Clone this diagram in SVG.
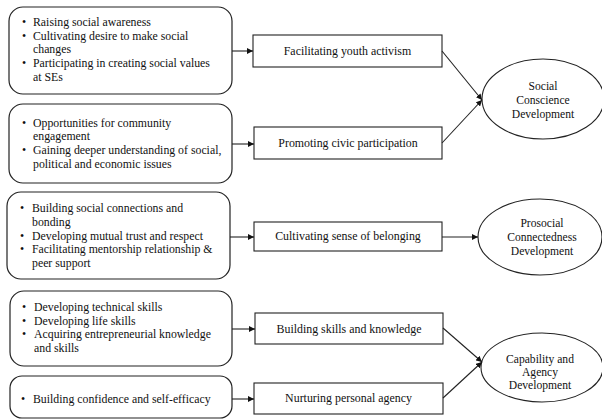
<svg xmlns="http://www.w3.org/2000/svg" width="602" height="420" viewBox="0 0 602 420">
  <style>
    .box { fill: #fff; stroke: #222; stroke-width: 1.2; }
    .rect { fill: #fff; stroke: #222; stroke-width: 1.1; }
    .oval { fill: #fff; stroke: #222; stroke-width: 1.1; }
    .conn { stroke: #222; stroke-width: 1.1; fill: none; marker-end: url(#head); }
    text { font-family: "Liberation Serif", "Times New Roman", serif; font-size: 11.8px; fill: #111; }
    .mid { text-anchor: middle; font-size: 11.9px; }
    .oval-t { text-anchor: middle; font-size: 11.6px; }
  </style>
  <defs>
    <marker id="head" viewBox="0 0 10 10" refX="10" refY="5" markerWidth="6" markerHeight="6" markerUnits="userSpaceOnUse" orient="auto">
      <path d="M0,0 L10,5 L0,10 z" fill="#111"/>
    </marker>
  </defs>
  <rect width="602" height="420" fill="#fff"/>

  <!-- source boxes -->
  <g id="src-activism">
    <rect class="box" x="9" y="7" width="223" height="87" rx="14"/>
    <text x="22" y="26">•</text><text x="33" y="26">Raising social awareness</text>
    <text x="22" y="40">•</text><text x="33" y="40">Cultivating desire to make social</text>
    <text x="33" y="53">changes</text>
    <text x="22" y="67">•</text><text x="33" y="67">Participating in creating social values</text>
    <text x="33" y="81">at SEs</text>
  </g>
  <g id="src-civic">
    <rect class="box" x="9" y="104" width="223" height="79" rx="14"/>
    <text x="22" y="127">•</text><text x="33" y="127">Opportunities for community</text>
    <text x="33" y="140">engagement</text>
    <text x="22" y="154">•</text><text x="33" y="154">Gaining deeper understanding of social,</text>
    <text x="33" y="168">political and economic issues</text>
  </g>
  <g id="src-belonging">
    <rect class="box" x="7" y="192" width="223" height="87" rx="14"/>
    <text x="20" y="212">•</text><text x="32" y="212">Building social connections and</text>
    <text x="32" y="226">bonding</text>
    <text x="20" y="240">•</text><text x="32" y="240">Developing mutual trust and respect</text>
    <text x="20" y="253">•</text><text x="32" y="253">Facilitating mentorship relationship &amp;</text>
    <text x="32" y="267">peer support</text>
  </g>
  <g id="src-skills">
    <rect class="box" x="10" y="291" width="222" height="75" rx="14"/>
    <text x="22" y="311">•</text><text x="34" y="311">Developing technical skills</text>
    <text x="22" y="325">•</text><text x="34" y="325">Developing life skills</text>
    <text x="22" y="338">•</text><text x="34" y="338">Acquiring entrepreneurial knowledge</text>
    <text x="34" y="352">and skills</text>
  </g>
  <g id="src-agency">
    <rect class="box" x="10" y="376" width="222" height="42" rx="12"/>
    <text x="21" y="403">•</text><text x="33" y="403">Building confidence and self-efficacy</text>
  </g>

  <!-- mechanism boxes -->
  <g id="mech-activism">
    <rect class="rect" x="253" y="35" width="189" height="32"/>
    <text class="mid" x="347.5" y="55">Facilitating youth activism</text>
  </g>
  <g id="mech-civic">
    <rect class="rect" x="254" y="127" width="188" height="32"/>
    <text class="mid" x="348" y="147">Promoting civic participation</text>
  </g>
  <g id="mech-belonging">
    <rect class="rect" x="254" y="222" width="188" height="29"/>
    <text class="mid" x="348" y="240">Cultivating sense of belonging</text>
  </g>
  <g id="mech-skills">
    <rect class="rect" x="255" y="313" width="188" height="31"/>
    <text class="mid" x="349" y="333">Building skills and knowledge</text>
  </g>
  <g id="mech-agency">
    <rect class="rect" x="254" y="383" width="189" height="31"/>
    <text class="mid" x="348.5" y="402">Nurturing personal agency</text>
  </g>

  <!-- outcomes -->
  <g id="out-conscience">
    <ellipse class="oval" cx="543" cy="99" rx="61" ry="40"/>
    <text class="oval-t" x="543" y="90">Social</text>
    <text class="oval-t" x="543" y="104">Conscience</text>
    <text class="oval-t" x="543" y="118">Development</text>
  </g>
  <g id="out-connectedness">
    <ellipse class="oval" cx="540" cy="237" rx="62" ry="38"/>
    <text class="oval-t" x="542" y="227">Prosocial</text>
    <text class="oval-t" x="542" y="241">Connectedness</text>
    <text class="oval-t" x="542" y="255">Development</text>
  </g>
  <g id="out-capability">
    <ellipse class="oval" cx="542" cy="367.5" rx="61" ry="34.5"/>
    <text class="oval-t" x="540" y="363">Capability and</text>
    <text class="oval-t" x="540" y="376">Agency</text>
    <text class="oval-t" x="540" y="389">Development</text>
  </g>

  <!-- connectors -->
  <g id="connectors">
    <line class="conn" x1="232" y1="51" x2="253" y2="51"/>
    <line class="conn" x1="232" y1="144" x2="254" y2="144"/>
    <line class="conn" x1="230" y1="237" x2="254" y2="237"/>
    <line class="conn" x1="232" y1="329" x2="255" y2="329"/>
    <line class="conn" x1="232" y1="399" x2="254" y2="399"/>
    <line class="conn" x1="442" y1="51" x2="482" y2="100"/>
    <line class="conn" x1="442" y1="143" x2="482" y2="100"/>
    <line class="conn" x1="442" y1="237" x2="478" y2="237"/>
    <line class="conn" x1="443" y1="328" x2="482" y2="362"/>
    <line class="conn" x1="443" y1="398" x2="482" y2="362"/>
  </g>
</svg>
